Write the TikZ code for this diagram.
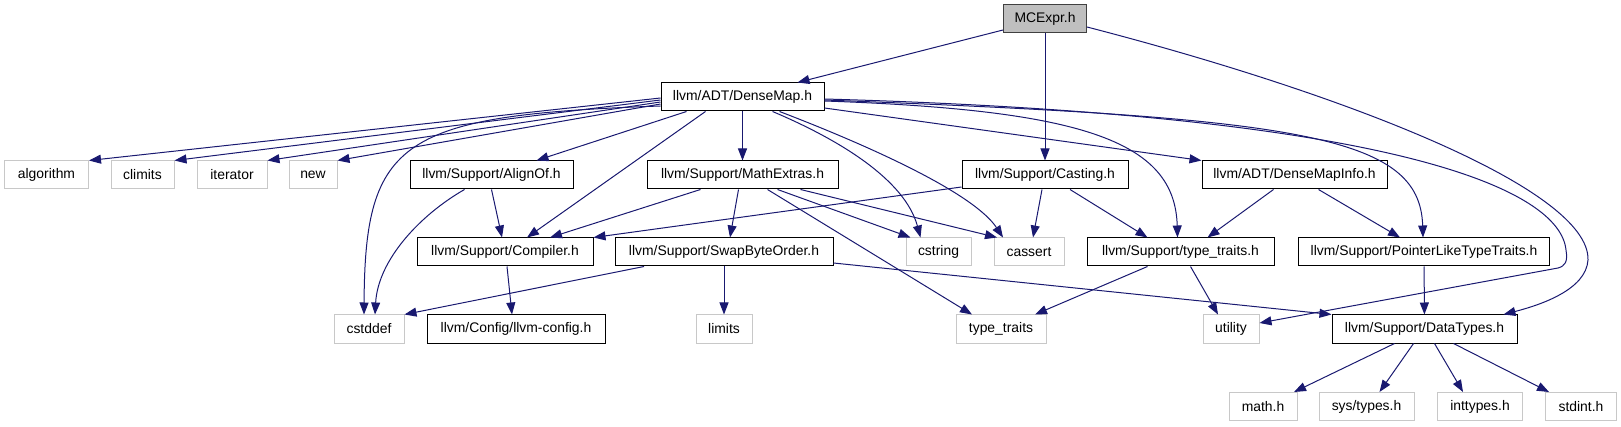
\documentclass[tikz,border=0pt]{standalone}
\usepackage{fontspec}
\setmainfont{Liberation Sans}
\usepackage{tikz}
\usetikzlibrary{arrows.meta, calc}
\definecolor{edgeblue}{HTML}{191970}
\definecolor{rootgray}{HTML}{BFBFBF}
\definecolor{sysgray}{HTML}{C8C8C8}

\begin{document}
\begin{tikzpicture}[x=1pt, y=-1pt, >={Triangle[length=12pt, width=9pt]},
    hdr/.style={draw=black, fill=white, line width=1pt, minimum height=28pt,
                inner sep=0pt, font=\fontsize{13.9pt}{16pt}\selectfont},
    sys/.style={hdr, draw=sysgray},
    root/.style={hdr, fill=rootgray, draw=black!75},
    dep/.style={->, draw=edgeblue, line width=1pt}]
    \useasboundingbox (0,0) rectangle (1621,427);
    % top
    \node[root, minimum width=83pt] (mcexpr) at (1045,19) {MCExpr.h};
    \node[hdr, minimum width=163pt] (densemap) at (742.5,97) {llvm/ADT/DenseMap.h};
    % row 2
    \node[sys, minimum width=84pt] (algo) at (46.5,175) {algorithm};
    \node[sys, minimum width=63pt] (climits) at (142.5,175) {climits};
    \node[sys, minimum width=70pt] (iter) at (232,175) {iterator};
    \node[sys, minimum width=48pt] (newh) at (313,175) {new};
    \node[hdr, minimum width=163pt] (alignof) at (491.5,175) {llvm/Support/AlignOf.h};
    \node[hdr, minimum width=191pt] (mathext) at (742.5,175) {llvm/Support/MathExtras.h};
    \node[hdr, minimum width=166pt] (casting) at (1045,175) {llvm/Support/Casting.h};
    \node[hdr, minimum width=185pt] (dmapinfo) at (1294.5,175) {llvm/ADT/DenseMapInfo.h};
    % row 3
    \node[hdr, minimum width=176pt] (compiler) at (505,252) {llvm/Support/Compiler.h};
    \node[hdr, minimum width=218pt] (swapbyte) at (724,252) {llvm/Support/SwapByteOrder.h};
    \node[sys, minimum width=65pt] (cstring) at (938.5,252) {cstring};
    \node[sys, minimum width=70pt] (cassert) at (1029,252) {cassert};
    \node[hdr, minimum width=187pt] (ttraitsh) at (1180.5,252) {llvm/Support/type\_traits.h};
    \node[hdr, minimum width=251pt] (ptrlike) at (1424,252) {llvm/Support/PointerLikeTypeTraits.h};
    % row 4
    \node[sys, minimum width=70pt] (cstddef) at (369,329) {cstddef};
    \node[hdr, minimum width=178pt] (llvmcfg) at (516,329) {llvm/Config/llvm-config.h};
    \node[sys, minimum width=56pt] (limits) at (724,329) {limits};
    \node[sys, minimum width=90pt] (ttraits) at (1001,329) {type\_traits};
    \node[sys, minimum width=56pt] (utility) at (1231,329) {utility};
    \node[hdr, minimum width=185pt] (datatypes) at (1424.5,329) {llvm/Support/DataTypes.h};
    % bottom
    \node[sys, minimum width=68pt] (mathh) at (1263,406.5) {math.h};
    \node[sys, minimum width=95pt] (systypes) at (1366.5,406.5) {sys/types.h};
    \node[sys, minimum width=85pt] (inttypes) at (1480,406.5) {inttypes.h};
    \node[sys, minimum width=71pt] (stdint) at (1581,406.5) {stdint.h};

    % MCExpr.h
    \draw[dep] ([yshift=-11pt]mcexpr.west) -- ([xshift=55pt]densemap.north);
    \draw[dep] (mcexpr) -- (casting);
    \draw[dep] ([yshift=-8pt]mcexpr.east) .. controls (1350,95) and (1590,190) .. (1588,260)
      .. controls (1586,290) and (1540,305) .. ([xshift=79pt]datatypes.north);
    % DenseMap.h
    \draw[dep] ([yshift=-1pt]densemap.west) -- (algo.north east);
    \draw[dep] ([yshift=-3pt]densemap.west) -- (climits.north east);
    \draw[dep] ([yshift=-5pt]densemap.west) -- (iter.north east);
    \draw[dep] ([yshift=-7pt]densemap.west) -- (newh.north east);
    \draw[dep] ([yshift=-9pt]densemap.west) .. controls (400,115) and (365,140)
      .. ([xshift=-5pt]cstddef.north);
    \draw[dep] ([xshift=-56pt]densemap.south) -- ([xshift=45pt]alignof.north);
    \draw[dep] ([xshift=-37pt]densemap.south) -- ([xshift=22pt]compiler.north);
    \draw[dep] (densemap) -- (mathext);
    \draw[dep] ([xshift=30pt]densemap.south) .. controls (840,140) and (905,180)
      .. ([xshift=-18pt]cstring.north);
    \draw[dep] ([xshift=37pt]densemap.south) .. controls (880,150) and (975,195)
      .. ([xshift=-26pt]cassert.north);
    \draw[dep] ([yshift=-11pt]densemap.east) -- (dmapinfo.north west);
    \draw[dep] ([yshift=-4pt]densemap.east) .. controls (1080,110) and (1175,140)
      .. ([xshift=-3pt]ttraitsh.north);
    \draw[dep] ([yshift=-3pt]densemap.east) .. controls (1300,118) and (1420,135)
      .. ([xshift=-1pt]ptrlike.north);
    \draw[dep] ([yshift=-2pt]densemap.east) .. controls (1400,115) and (1560,190) .. (1566,250)
      .. controls (1568,262) and (1565,266) .. (1558,268) -- ([yshift=6pt]utility.east);
    % AlignOf.h
    \draw[dep] (alignof.south) -- ([xshift=-3pt]compiler.north);
    \draw[dep] ([xshift=-27pt]alignof.south) .. controls (420,215) and (378,260)
      .. ([xshift=6pt]cstddef.north);
    % MathExtras.h
    \draw[dep] ([xshift=-42pt]mathext.south) -- ([xshift=45pt]compiler.north);
    \draw[dep] ([xshift=-4pt]mathext.south) -- ([xshift=6pt]swapbyte.north);
    \draw[dep] ([xshift=25pt]mathext.south) -- ([xshift=-29pt]ttraits.north);
    \draw[dep] ([xshift=35pt]mathext.south) -- ([xshift=-28pt]cstring.north);
    \draw[dep] ([xshift=58pt]mathext.south) -- ([xshift=-32pt]cassert.north);
    % Casting.h
    \draw[dep] ([yshift=-12pt]casting.west) -- (compiler.north east);
    \draw[dep] ([xshift=-3pt]casting.south) -- ([xshift=4pt]cassert.north);
    \draw[dep] ([xshift=25pt]casting.south) -- ([xshift=-33pt]ttraitsh.north);
    % DenseMapInfo.h
    \draw[dep] ([xshift=-21pt]dmapinfo.south) -- ([xshift=27pt]ttraitsh.north);
    \draw[dep] ([xshift=24pt]dmapinfo.south) -- ([xshift=-24pt]ptrlike.north);
    % third row
    \draw[dep] ([xshift=2pt]compiler.south) -- ([xshift=-4pt]llvmcfg.north);
    \draw[dep] ([xshift=-80pt]swapbyte.south) -- (cstddef.north east);
    \draw[dep] (swapbyte) -- (limits);
    \draw[dep] ([yshift=-11pt]swapbyte.east) -- (datatypes.north west);
    \draw[dep] ([xshift=-33pt]ttraitsh.south) -- ([xshift=34pt]ttraits.north);
    \draw[dep] ([xshift=10pt]ttraitsh.south) -- ([xshift=-13pt]utility.north);
    \draw[dep] (ptrlike) -- (datatypes);
    % DataTypes.h
    \draw[dep] ([xshift=-30pt]datatypes.south) -- ([xshift=31pt]mathh.north);
    \draw[dep] ([xshift=-11pt]datatypes.south) -- ([xshift=13pt]systypes.north);
    \draw[dep] ([xshift=10pt]datatypes.south) -- ([xshift=-17pt]inttypes.north);
    \draw[dep] ([xshift=29pt]datatypes.south) -- ([xshift=-32pt]stdint.north);
\end{tikzpicture}
\end{document}
